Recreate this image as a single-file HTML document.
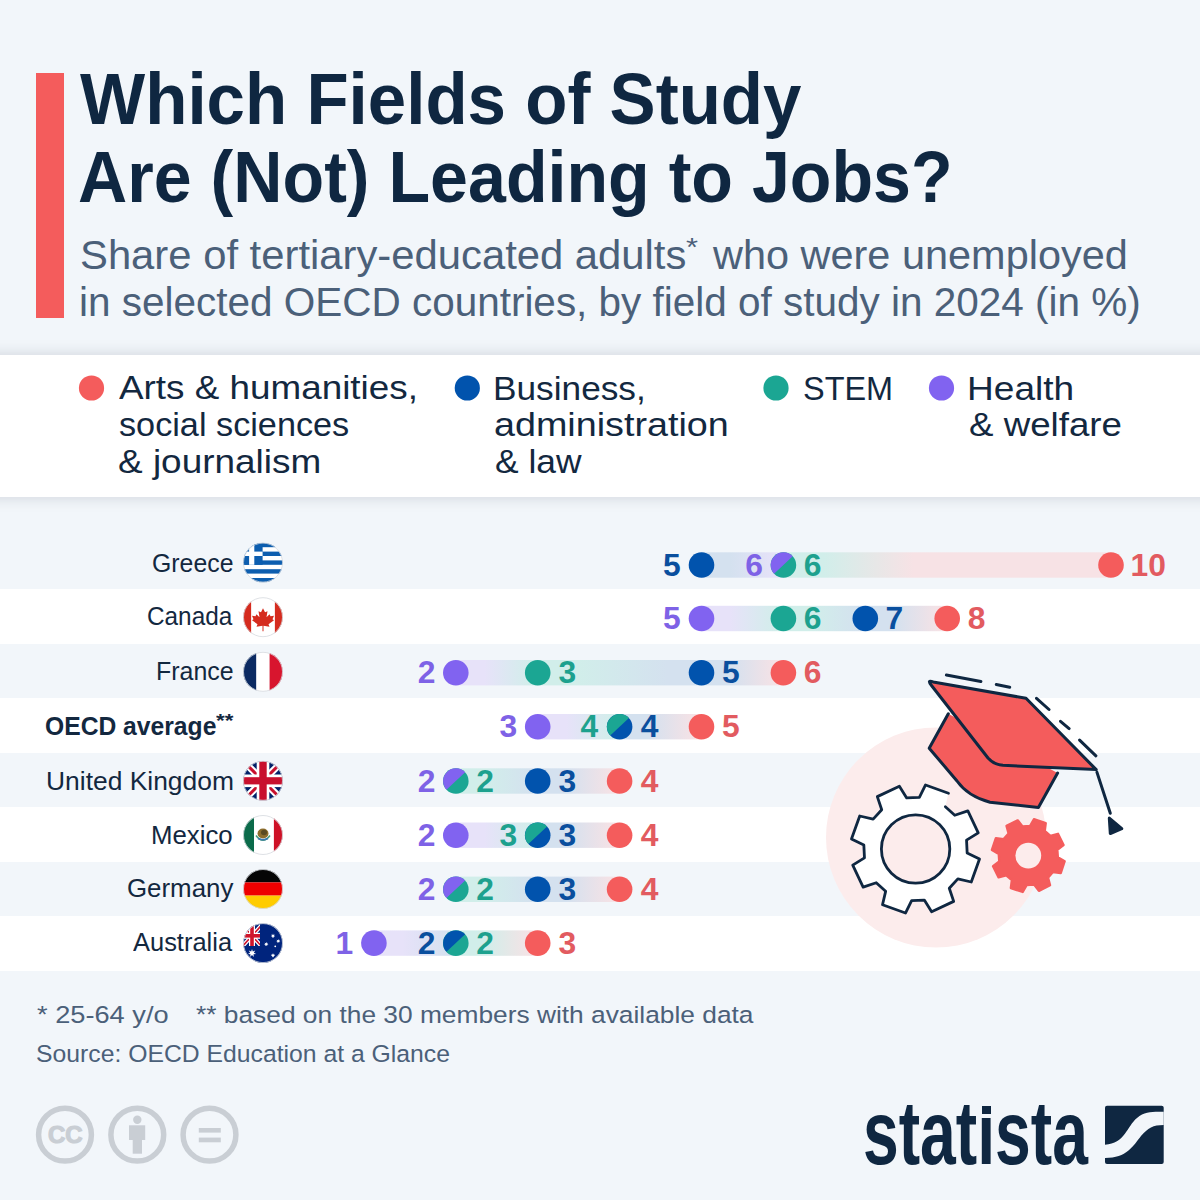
<!DOCTYPE html>
<html><head><meta charset="utf-8"><style>
html,body{margin:0;padding:0;}
body{width:1200px;height:1200px;position:relative;overflow:hidden;background:#f2f6fa;font-family:"Liberation Sans",sans-serif;}
.t{position:absolute;white-space:pre;transform-origin:0 0;}
</style></head><body>
<div style="position:absolute;left:36px;top:73px;width:28px;height:245px;background:#f45c5c"></div>
<div style="position:absolute;left:0;top:534.50px;width:1200px;height:54.5px;background:#f2f6fa"></div><div style="position:absolute;left:0;top:589.00px;width:1200px;height:54.5px;background:#ffffff"></div><div style="position:absolute;left:0;top:643.50px;width:1200px;height:54.5px;background:#f2f6fa"></div><div style="position:absolute;left:0;top:698.00px;width:1200px;height:54.5px;background:#ffffff"></div><div style="position:absolute;left:0;top:752.50px;width:1200px;height:54.5px;background:#f2f6fa"></div><div style="position:absolute;left:0;top:807.00px;width:1200px;height:54.5px;background:#ffffff"></div><div style="position:absolute;left:0;top:861.50px;width:1200px;height:54.5px;background:#f2f6fa"></div><div style="position:absolute;left:0;top:916.00px;width:1200px;height:54.5px;background:#ffffff"></div>
<div style="position:absolute;left:-30px;top:354.5px;width:1260px;height:142.5px;background:#ffffff;box-shadow:0 0 14px rgba(40,50,70,0.18)"></div>
<svg style="position:absolute;left:0;top:0" width="1200" height="1200" viewBox="0 0 1200 1200">
<circle cx="91.5" cy="388" r="12.6" fill="#f45c5c"/>
<circle cx="467.3" cy="388" r="12.6" fill="#0153ad"/>
<circle cx="776" cy="388" r="12.6" fill="#1ba693"/>
<circle cx="941.5" cy="388" r="12.6" fill="#8163f0"/>

<circle cx="936" cy="837.5" r="110" fill="#fcecec"/>
<path d="M877.32,796.64 L899.38,786.24 L906.68,797.96 L919.38,797.35 L925.53,784.98 L948.49,793.22 L945.36,806.67 L954.77,815.22 L967.86,810.82 L978.26,832.88 L966.54,840.18 L967.15,852.88 L979.52,859.03 L971.28,881.99 L957.83,878.86 L949.28,888.27 L953.68,901.36 L931.62,911.76 L924.32,900.04 L911.62,900.65 L905.47,913.02 L882.51,904.78 L885.64,891.33 L876.23,882.78 L863.14,887.18 L852.74,865.12 L864.46,857.82 L863.85,845.12 L851.48,838.97 L859.72,816.01 L873.17,819.14 L881.72,809.73 Z" fill="#ffffff"/>
<path d="M945.36,806.67 L954.77,815.22 L967.86,810.82 L978.26,832.88 L966.54,840.18 L967.15,852.88 L979.52,859.03 L971.28,881.99 L957.83,878.86 L949.28,888.27 L953.68,901.36 L931.62,911.76 L924.32,900.04 L911.62,900.65 L905.47,913.02 L882.51,904.78 L885.64,891.33 L876.23,882.78 L863.14,887.18 L852.74,865.12 L864.46,857.82 L863.85,845.12 L851.48,838.97 L859.72,816.01 L873.17,819.14 L881.72,809.73 L877.32,796.64 L899.38,786.24 L906.68,797.96 L919.38,797.35 L925.53,784.98 L948.49,793.22" fill="none" stroke="#0f2741" stroke-width="2.8" stroke-linejoin="round" stroke-linecap="round"/>
<circle cx="915.6" cy="849" r="34.2" fill="#fcecec" stroke="#0f2741" stroke-width="2.8"/>
<path d="M1006.54,825.92 L1017.69,820.36 L1022.53,826.57 L1029.98,826.05 L1033.90,819.23 L1045.72,823.18 L1044.74,830.99 L1050.38,835.89 L1057.98,833.84 L1063.54,844.99 L1057.33,849.83 L1057.85,857.28 L1064.67,861.20 L1060.72,873.02 L1052.91,872.04 L1048.01,877.68 L1050.06,885.28 L1038.91,890.84 L1034.07,884.63 L1026.62,885.15 L1022.70,891.97 L1010.88,888.02 L1011.86,880.21 L1006.22,875.31 L998.62,877.36 L993.06,866.21 L999.27,861.37 L998.75,853.92 L991.93,850.00 L995.88,838.18 L1003.69,839.16 L1008.59,833.52 Z" fill="#f45c5c" stroke="#f45c5c" stroke-width="2.4" stroke-linejoin="round"/>
<circle cx="1028.3" cy="855.6" r="12.9" fill="#fcecec"/>
<g stroke="#0f2741" stroke-width="3" stroke-linejoin="round" stroke-linecap="round">
<path d="M948.3,713.7 L929.2,748.2 L957,781 Q968,796.5 990,802.2 L1038.4,807.6 L1057.6,773.1" fill="#f45c5c"/>
<path d="M933.2,681.9 L1026,698.3 L1096.2,769.6 L1003,765.3 Q994,764.6 988,758 L931.5,685.5 Q926.5,679.5 933.2,681.9 Z" fill="#f45c5c"/>
<path d="M1096.9,772.1 L1110.3,813.3" fill="none"/>
<path d="M1109.3,818.1 L1121.8,828.7 L1110.3,833.5 Z" fill="#0f2741"/>
<path d="M946.4,675 L980.9,681.5 M996.3,684.5 L1009.7,687.2 M1036.5,698.3 L1049,709.5 M1060.5,721.3 L1069.1,728.6 M1079.6,740.1 L1095.9,755.8" fill="none"/>
</g>

<linearGradient id="g0" gradientUnits="userSpaceOnUse" x1="701.5" y1="0" x2="1111.0" y2="0"><stop offset="0.00%" stop-color="#d4e1ef"/><stop offset="7.00%" stop-color="#d4e1ef"/><stop offset="18.78%" stop-color="#e7e2f9"/><stop offset="20.00%" stop-color="#e7e2f9"/><stop offset="20.00%" stop-color="#d1eeea"/><stop offset="29.77%" stop-color="#d1eeea"/><stop offset="51.75%" stop-color="#f7e2e5"/><stop offset="100.00%" stop-color="#f7e2e5"/></linearGradient>
<rect x="701.50" y="552.30" width="409.50" height="25.4" fill="url(#g0)"/>
<circle cx="701.50" cy="565" r="12.8" fill="#0153ad"/>
<circle cx="783.40" cy="565" r="12.8" fill="#1ba693"/>
<path d="M792.76,556.27 A12.8,12.8 0 0 0 774.04,573.73 Z" fill="#8163f0"/>
<circle cx="1111.00" cy="565" r="12.8" fill="#f45c5c"/>
<linearGradient id="g1" gradientUnits="userSpaceOnUse" x1="701.5" y1="0" x2="947.2" y2="0"><stop offset="0.00%" stop-color="#e7e2f9"/><stop offset="11.67%" stop-color="#e7e2f9"/><stop offset="31.30%" stop-color="#d1eeea"/><stop offset="33.33%" stop-color="#d1eeea"/><stop offset="45.00%" stop-color="#d1eeea"/><stop offset="64.63%" stop-color="#d4e1ef"/><stop offset="66.67%" stop-color="#d4e1ef"/><stop offset="78.33%" stop-color="#d4e1ef"/><stop offset="97.96%" stop-color="#f7e2e5"/><stop offset="100.00%" stop-color="#f7e2e5"/></linearGradient>
<rect x="701.50" y="605.80" width="245.70" height="25.4" fill="url(#g1)"/>
<circle cx="701.50" cy="618.5" r="12.8" fill="#8163f0"/>
<circle cx="783.40" cy="618.5" r="12.8" fill="#1ba693"/>
<circle cx="865.30" cy="618.5" r="12.8" fill="#0153ad"/>
<circle cx="947.20" cy="618.5" r="12.8" fill="#f45c5c"/>
<linearGradient id="g2" gradientUnits="userSpaceOnUse" x1="455.8" y1="0" x2="783.4000000000001" y2="0"><stop offset="0.00%" stop-color="#e7e2f9"/><stop offset="8.75%" stop-color="#e7e2f9"/><stop offset="23.47%" stop-color="#d1eeea"/><stop offset="25.00%" stop-color="#d1eeea"/><stop offset="37.21%" stop-color="#d1eeea"/><stop offset="64.68%" stop-color="#d4e1ef"/><stop offset="75.00%" stop-color="#d4e1ef"/><stop offset="83.75%" stop-color="#d4e1ef"/><stop offset="98.47%" stop-color="#f7e2e5"/><stop offset="100.00%" stop-color="#f7e2e5"/></linearGradient>
<rect x="455.80" y="660.00" width="327.60" height="25.4" fill="url(#g2)"/>
<circle cx="455.80" cy="672.7" r="12.8" fill="#8163f0"/>
<circle cx="537.70" cy="672.7" r="12.8" fill="#1ba693"/>
<circle cx="701.50" cy="672.7" r="12.8" fill="#0153ad"/>
<circle cx="783.40" cy="672.7" r="12.8" fill="#f45c5c"/>
<linearGradient id="g3" gradientUnits="userSpaceOnUse" x1="537.7" y1="0" x2="701.5" y2="0"><stop offset="0.00%" stop-color="#e7e2f9"/><stop offset="17.50%" stop-color="#e7e2f9"/><stop offset="46.95%" stop-color="#d1eeea"/><stop offset="50.00%" stop-color="#d1eeea"/><stop offset="50.00%" stop-color="#d4e1ef"/><stop offset="67.50%" stop-color="#d4e1ef"/><stop offset="96.95%" stop-color="#f7e2e5"/><stop offset="100.00%" stop-color="#f7e2e5"/></linearGradient>
<rect x="537.70" y="714.00" width="163.80" height="25.4" fill="url(#g3)"/>
<circle cx="537.70" cy="726.7" r="12.8" fill="#8163f0"/>
<circle cx="619.60" cy="726.7" r="12.8" fill="#0153ad"/>
<path d="M628.96,717.97 A12.8,12.8 0 0 0 610.24,735.43 Z" fill="#1ba693"/>
<circle cx="701.50" cy="726.7" r="12.8" fill="#f45c5c"/>
<linearGradient id="g4" gradientUnits="userSpaceOnUse" x1="455.8" y1="0" x2="619.6" y2="0"><stop offset="0.00%" stop-color="#e7e2f9"/><stop offset="0.00%" stop-color="#d1eeea"/><stop offset="17.50%" stop-color="#d1eeea"/><stop offset="46.95%" stop-color="#d4e1ef"/><stop offset="50.00%" stop-color="#d4e1ef"/><stop offset="67.50%" stop-color="#d4e1ef"/><stop offset="96.95%" stop-color="#f7e2e5"/><stop offset="100.00%" stop-color="#f7e2e5"/></linearGradient>
<rect x="455.80" y="768.30" width="163.80" height="25.4" fill="url(#g4)"/>
<circle cx="455.80" cy="781" r="12.8" fill="#1ba693"/>
<path d="M465.16,772.27 A12.8,12.8 0 0 0 446.44,789.73 Z" fill="#8163f0"/>
<circle cx="537.70" cy="781" r="12.8" fill="#0153ad"/>
<circle cx="619.60" cy="781" r="12.8" fill="#f45c5c"/>
<linearGradient id="g5" gradientUnits="userSpaceOnUse" x1="455.8" y1="0" x2="619.6" y2="0"><stop offset="0.00%" stop-color="#e7e2f9"/><stop offset="17.50%" stop-color="#e7e2f9"/><stop offset="46.95%" stop-color="#d1eeea"/><stop offset="50.00%" stop-color="#d1eeea"/><stop offset="50.00%" stop-color="#d4e1ef"/><stop offset="67.50%" stop-color="#d4e1ef"/><stop offset="96.95%" stop-color="#f7e2e5"/><stop offset="100.00%" stop-color="#f7e2e5"/></linearGradient>
<rect x="455.80" y="822.50" width="163.80" height="25.4" fill="url(#g5)"/>
<circle cx="455.80" cy="835.2" r="12.8" fill="#8163f0"/>
<circle cx="537.70" cy="835.2" r="12.8" fill="#0153ad"/>
<path d="M547.06,826.47 A12.8,12.8 0 0 0 528.34,843.93 Z" fill="#1ba693"/>
<circle cx="619.60" cy="835.2" r="12.8" fill="#f45c5c"/>
<linearGradient id="g6" gradientUnits="userSpaceOnUse" x1="455.8" y1="0" x2="619.6" y2="0"><stop offset="0.00%" stop-color="#e7e2f9"/><stop offset="0.00%" stop-color="#d1eeea"/><stop offset="17.50%" stop-color="#d1eeea"/><stop offset="46.95%" stop-color="#d4e1ef"/><stop offset="50.00%" stop-color="#d4e1ef"/><stop offset="67.50%" stop-color="#d4e1ef"/><stop offset="96.95%" stop-color="#f7e2e5"/><stop offset="100.00%" stop-color="#f7e2e5"/></linearGradient>
<rect x="455.80" y="876.60" width="163.80" height="25.4" fill="url(#g6)"/>
<circle cx="455.80" cy="889.3" r="12.8" fill="#1ba693"/>
<path d="M465.16,880.57 A12.8,12.8 0 0 0 446.44,898.03 Z" fill="#8163f0"/>
<circle cx="537.70" cy="889.3" r="12.8" fill="#0153ad"/>
<circle cx="619.60" cy="889.3" r="12.8" fill="#f45c5c"/>
<linearGradient id="g7" gradientUnits="userSpaceOnUse" x1="373.9" y1="0" x2="537.7" y2="0"><stop offset="0.00%" stop-color="#e7e2f9"/><stop offset="17.50%" stop-color="#e7e2f9"/><stop offset="46.95%" stop-color="#d4e1ef"/><stop offset="50.00%" stop-color="#d4e1ef"/><stop offset="50.00%" stop-color="#d1eeea"/><stop offset="67.50%" stop-color="#d1eeea"/><stop offset="96.95%" stop-color="#f7e2e5"/><stop offset="100.00%" stop-color="#f7e2e5"/></linearGradient>
<rect x="373.90" y="930.40" width="163.80" height="25.4" fill="url(#g7)"/>
<circle cx="373.90" cy="943.1" r="12.8" fill="#8163f0"/>
<circle cx="455.80" cy="943.1" r="12.8" fill="#1ba693"/>
<path d="M465.16,934.37 A12.8,12.8 0 0 0 446.44,951.83 Z" fill="#0153ad"/>
<circle cx="537.70" cy="943.1" r="12.8" fill="#f45c5c"/>
<clipPath id="fc0"><circle cx="263" cy="562.6" r="19.8"/></clipPath><g clip-path="url(#fc0)"><rect x="243.2" y="542.8000000000001" width="39.6" height="39.6" fill="#ffffff"/><rect x="243.2" y="542.80" width="39.6" height="4.40" fill="#0d5eaf"/><rect x="243.2" y="551.60" width="39.6" height="4.40" fill="#0d5eaf"/><rect x="243.2" y="560.40" width="39.6" height="4.40" fill="#0d5eaf"/><rect x="243.2" y="569.20" width="39.6" height="4.40" fill="#0d5eaf"/><rect x="243.2" y="578.00" width="39.6" height="4.40" fill="#0d5eaf"/><rect x="243.2" y="542.8000000000001" width="19.4" height="22.00" fill="#0d5eaf"/><rect x="243.2" y="551.60" width="19.4" height="4.40" fill="#ffffff"/><rect x="249.10" y="542.8000000000001" width="5.2" height="22.00" fill="#ffffff"/></g><circle cx="263" cy="562.6" r="19.5" fill="none" stroke="#d6d9de" stroke-width="0.8"/><clipPath id="fc1"><circle cx="263" cy="617.2" r="19.8"/></clipPath><g clip-path="url(#fc1)"><rect x="243.2" y="597.4000000000001" width="39.6" height="39.6" fill="#ffffff"/><rect x="243.2" y="597.4000000000001" width="7.92" height="39.6" fill="#d52b1e"/><rect x="274.88" y="597.4000000000001" width="7.92" height="39.6" fill="#d52b1e"/><path transform="translate(263,617.2) scale(0.5)" d="M0,-18 L4,-10 L9,-12 L7,0 L13,-6 L15,-2 L22,-3 L19,4 L22,6 L11,14 L13,19 L1,17 L1,28 L-1,28 L-1,17 L-13,19 L-11,14 L-22,6 L-19,4 L-22,-3 L-15,-2 L-13,-6 L-7,0 L-9,-12 L-4,-10 Z" fill="#d52b1e"/></g><circle cx="263" cy="617.2" r="19.5" fill="none" stroke="#d6d9de" stroke-width="0.8"/><clipPath id="fc2"><circle cx="263" cy="671.8" r="19.8"/></clipPath><g clip-path="url(#fc2)"><rect x="243.2" y="652.0" width="13.20" height="39.6" fill="#0b2a62"/><rect x="256.40" y="652.0" width="13.20" height="39.6" fill="#ffffff"/><rect x="269.60" y="652.0" width="13.20" height="39.6" fill="#d8152e"/></g><circle cx="263" cy="671.8" r="19.5" fill="none" stroke="#d6d9de" stroke-width="0.8"/><clipPath id="fc4"><circle cx="263" cy="780.8" r="19.8"/></clipPath><g clip-path="url(#fc4)"><rect x="243.2" y="761.0" width="39.6" height="39.6" fill="#012169"/><path d="M243.2,761.0 L282.8,800.6 M282.8,761.0 L243.2,800.6" stroke="#ffffff" stroke-width="7"/><path d="M243.2,761.0 L282.8,800.6 M282.8,761.0 L243.2,800.6" stroke="#c8102e" stroke-width="3"/><rect x="256.7" y="761.0" width="12.6" height="39.6" fill="#ffffff"/><rect x="243.2" y="774.5" width="39.6" height="12.6" fill="#ffffff"/><rect x="259.3" y="761.0" width="7.4" height="39.6" fill="#c8102e"/><rect x="243.2" y="777.1999999999999" width="39.6" height="7.2" fill="#c8102e"/></g><circle cx="263" cy="780.8" r="19.5" fill="none" stroke="#d6d9de" stroke-width="0.8"/><clipPath id="fc5"><circle cx="263" cy="835" r="19.8"/></clipPath><g clip-path="url(#fc5)"><rect x="243.2" y="815.2" width="10.89" height="39.6" fill="#0b6b4a"/><rect x="254.09" y="815.2" width="19.80" height="39.6" fill="#ffffff"/><rect x="273.89" y="815.2" width="8.91" height="39.6" fill="#ce1126"/><ellipse cx="263" cy="833.5" rx="5.5" ry="5" fill="#8c6d2c"/><ellipse cx="264" cy="832.5" rx="3" ry="2.8" fill="#5a4a20"/><path d="M256,835.5 Q263,845 270,835.5" stroke="#4a9a7a" stroke-width="1.6" fill="none"/><path d="M258,838.5 Q263,841 268,838.5" stroke="#3a7ab0" stroke-width="1.5" fill="none"/></g><circle cx="263" cy="835" r="19.5" fill="none" stroke="#d6d9de" stroke-width="0.8"/><clipPath id="fc6"><circle cx="263" cy="889" r="19.8"/></clipPath><g clip-path="url(#fc6)"><rect x="243.2" y="869.2" width="39.6" height="13.20" fill="#050505"/><rect x="243.2" y="882.40" width="39.6" height="13.20" fill="#ee0000"/><rect x="243.2" y="895.60" width="39.6" height="13.20" fill="#ffcc00"/></g><circle cx="263" cy="889" r="19.5" fill="none" stroke="#d6d9de" stroke-width="0.8"/><clipPath id="fc7"><circle cx="263" cy="943.1" r="19.8"/></clipPath><g clip-path="url(#fc7)"><rect x="243.2" y="923.3000000000001" width="39.6" height="39.6" fill="#00247d"/><clipPath id="ac"><rect x="243.2" y="923.3000000000001" width="16.80" height="22.80"/></clipPath><g clip-path="url(#ac)"><path d="M242.5,925.3000000000001 L261.5,946.3000000000001 M261.5,925.3000000000001 L242.5,946.3000000000001" stroke="#ffffff" stroke-width="4"/><path d="M242.5,925.3000000000001 L261.5,946.3000000000001 M261.5,925.3000000000001 L242.5,946.3000000000001" stroke="#cf142b" stroke-width="1.6"/><rect x="249" y="923.3000000000001" width="6" height="30" fill="#ffffff"/><rect x="243.2" y="932.8000000000001" width="30" height="6" fill="#ffffff"/><rect x="250.2" y="923.3000000000001" width="3.6" height="30" fill="#cf142b"/><rect x="243.2" y="934.0000000000001" width="30" height="3.6" fill="#cf142b"/></g><polygon points="252.00,948.90 252.82,951.40 255.28,950.48 253.84,952.68 256.09,954.03 253.48,954.28 253.82,956.88 252.00,954.99 250.18,956.88 250.52,954.28 247.91,954.03 250.16,952.68 248.72,950.48 251.18,951.40" fill="#ffffff"/><polygon points="273.00,933.55 273.45,934.92 274.80,934.42 274.01,935.62 275.24,936.36 273.81,936.50 274.00,937.92 273.00,936.88 272.00,937.92 272.19,936.50 270.76,936.36 271.99,935.62 271.20,934.42 272.55,934.92" fill="#ffffff"/><polygon points="266.25,941.80 266.70,943.17 268.05,942.67 267.26,943.87 268.49,944.61 267.06,944.75 267.25,946.17 266.25,945.13 265.25,946.17 265.44,944.75 264.01,944.61 265.24,943.87 264.45,942.67 265.80,943.17" fill="#ffffff"/><polygon points="278.25,938.90 278.68,940.21 279.97,939.73 279.22,940.88 280.39,941.59 279.02,941.72 279.20,943.08 278.25,942.09 277.30,943.08 277.48,941.72 276.11,941.59 277.28,940.88 276.53,939.73 277.82,940.21" fill="#ffffff"/><polygon points="273.00,953.05 273.45,954.42 274.80,953.92 274.01,955.12 275.24,955.86 273.81,956.00 274.00,957.42 273.00,956.38 272.00,957.42 272.19,956.00 270.76,955.86 271.99,955.12 271.20,953.92 272.55,954.42" fill="#ffffff"/><circle cx="275.25" cy="946.35" r="0.9" fill="#ffffff"/></g><circle cx="263" cy="943.1" r="19.5" fill="none" stroke="#d6d9de" stroke-width="0.8"/>

<g fill="none" stroke="#c9ced4" stroke-width="5.5">
<circle cx="65" cy="1134.7" r="26.4"/>
<circle cx="137.3" cy="1134.7" r="26.4"/>
<circle cx="209.5" cy="1134.7" r="26.4"/>
</g>
<g fill="#c9ced4">
<circle cx="137.3" cy="1119.8" r="4.2"/>
<rect x="129" y="1125.3" width="16.2" height="14.7"/>
<rect x="132.7" y="1138" width="9.3" height="15.7"/>
<rect x="198.8" y="1128" width="22" height="4.6"/>
<rect x="198.8" y="1137.6" width="22" height="4.7"/>
</g>

<rect x="1105" y="1105.7" width="58.7" height="58.3" rx="2" fill="#0f2741"/>
<path d="M1105,1144.7 C1125,1143.7 1127,1126 1137,1118 C1145,1111 1153,1111.7 1163.7,1111.7 L1163.7,1125 C1153,1125 1148,1128 1141,1136 C1133,1146 1127,1158 1105,1158 Z" fill="#f2f6fa"/>

</svg>
<div class="t" style="left:79.93px;top:62.55px;font-size:72px;line-height:72px;font-weight:700;color:#0f2741;transform:scaleX(0.9594);">Which Fields of Study</div>
<div class="t" style="left:78.30px;top:141.05px;font-size:72px;line-height:72px;font-weight:700;color:#0f2741;transform:scaleX(0.9466);">Are (Not) Leading to Jobs?</div>
<div class="t" style="left:79.80px;top:234.99px;font-size:41px;line-height:41px;font-weight:400;color:#4b6079;transform:scaleX(1.0194);">Share of tertiary-educated adults</div>
<div class="t" style="left:685.50px;top:233.99px;font-size:26px;line-height:26px;font-weight:400;color:#4b6079;transform:scaleX(1.1837);">*</div>
<div class="t" style="left:713.06px;top:234.99px;font-size:41px;line-height:41px;font-weight:400;color:#4b6079;transform:scaleX(1.0111);">who were unemployed</div>
<div class="t" style="left:78.99px;top:282.49px;font-size:41px;line-height:41px;font-weight:400;color:#4b6079;transform:scaleX(0.9871);">in selected OECD countries, by field of study in 2024 (in %)</div>
<div class="t" style="left:119.43px;top:370.22px;font-size:34px;line-height:34px;font-weight:400;color:#13283f;transform:scaleX(1.0834);">Arts &amp; humanities,</div>
<div class="t" style="left:118.55px;top:406.72px;font-size:34px;line-height:34px;font-weight:400;color:#13283f;transform:scaleX(1.0067);">social sciences</div>
<div class="t" style="left:118.20px;top:443.72px;font-size:34px;line-height:34px;font-weight:400;color:#13283f;transform:scaleX(1.0864);">&amp; journalism</div>
<div class="t" style="left:493.11px;top:370.72px;font-size:34px;line-height:34px;font-weight:400;color:#13283f;transform:scaleX(1.0363);">Business,</div>
<div class="t" style="left:494.40px;top:407.22px;font-size:34px;line-height:34px;font-weight:400;color:#13283f;transform:scaleX(1.1091);">administration</div>
<div class="t" style="left:494.76px;top:443.72px;font-size:34px;line-height:34px;font-weight:400;color:#13283f;transform:scaleX(1.0399);">&amp; law</div>
<div class="t" style="left:802.53px;top:370.52px;font-size:34px;line-height:34px;font-weight:400;color:#13283f;transform:scaleX(0.9544);">STEM</div>
<div class="t" style="left:966.96px;top:370.52px;font-size:34px;line-height:34px;font-weight:400;color:#13283f;transform:scaleX(1.0902);">Health</div>
<div class="t" style="left:968.71px;top:407.22px;font-size:34px;line-height:34px;font-weight:400;color:#13283f;transform:scaleX(1.0790);">&amp; welfare</div>
<div class="t" style="left:663.10px;top:549.58px;font-size:31.8px;line-height:31.8px;font-weight:700;color:#0a4f9e;transform:scaleX(1.0000);">5</div>
<div class="t" style="left:745.26px;top:549.58px;font-size:31.8px;line-height:31.8px;font-weight:700;color:#7e62e6;transform:scaleX(1.0000);">6</div>
<div class="t" style="left:803.84px;top:549.58px;font-size:31.8px;line-height:31.8px;font-weight:700;color:#1da18e;transform:scaleX(1.0000);">6</div>
<div class="t" style="left:1130.60px;top:549.58px;font-size:31.8px;line-height:31.8px;font-weight:700;color:#e25b60;transform:scaleX(1.0000);">10</div>
<div class="t" style="left:663.10px;top:603.08px;font-size:31.8px;line-height:31.8px;font-weight:700;color:#7e62e6;transform:scaleX(1.0000);">5</div>
<div class="t" style="left:803.84px;top:603.08px;font-size:31.8px;line-height:31.8px;font-weight:700;color:#1da18e;transform:scaleX(1.0000);">6</div>
<div class="t" style="left:885.53px;top:603.08px;font-size:31.8px;line-height:31.8px;font-weight:700;color:#0a4f9e;transform:scaleX(1.0000);">7</div>
<div class="t" style="left:967.79px;top:603.08px;font-size:31.8px;line-height:31.8px;font-weight:700;color:#e25b60;transform:scaleX(1.0000);">8</div>
<div class="t" style="left:417.79px;top:657.28px;font-size:31.8px;line-height:31.8px;font-weight:700;color:#7e62e6;transform:scaleX(1.0000);">2</div>
<div class="t" style="left:558.57px;top:657.28px;font-size:31.8px;line-height:31.8px;font-weight:700;color:#1da18e;transform:scaleX(1.0000);">3</div>
<div class="t" style="left:722.12px;top:657.28px;font-size:31.8px;line-height:31.8px;font-weight:700;color:#0a4f9e;transform:scaleX(1.0000);">5</div>
<div class="t" style="left:803.84px;top:657.28px;font-size:31.8px;line-height:31.8px;font-weight:700;color:#e25b60;transform:scaleX(1.0000);">6</div>
<div class="t" style="left:499.56px;top:711.28px;font-size:31.8px;line-height:31.8px;font-weight:700;color:#7e62e6;transform:scaleX(1.0000);">3</div>
<div class="t" style="left:580.49px;top:711.28px;font-size:31.8px;line-height:31.8px;font-weight:700;color:#1da18e;transform:scaleX(1.0000);">4</div>
<div class="t" style="left:640.72px;top:711.28px;font-size:31.8px;line-height:31.8px;font-weight:700;color:#0a4f9e;transform:scaleX(1.0000);">4</div>
<div class="t" style="left:722.12px;top:711.28px;font-size:31.8px;line-height:31.8px;font-weight:700;color:#e25b60;transform:scaleX(1.0000);">5</div>
<div class="t" style="left:417.79px;top:765.58px;font-size:31.8px;line-height:31.8px;font-weight:700;color:#7e62e6;transform:scaleX(1.0000);">2</div>
<div class="t" style="left:476.30px;top:765.58px;font-size:31.8px;line-height:31.8px;font-weight:700;color:#1da18e;transform:scaleX(1.0000);">2</div>
<div class="t" style="left:558.57px;top:765.58px;font-size:31.8px;line-height:31.8px;font-weight:700;color:#0a4f9e;transform:scaleX(1.0000);">3</div>
<div class="t" style="left:640.72px;top:765.58px;font-size:31.8px;line-height:31.8px;font-weight:700;color:#e25b60;transform:scaleX(1.0000);">4</div>
<div class="t" style="left:417.79px;top:819.78px;font-size:31.8px;line-height:31.8px;font-weight:700;color:#7e62e6;transform:scaleX(1.0000);">2</div>
<div class="t" style="left:499.56px;top:819.78px;font-size:31.8px;line-height:31.8px;font-weight:700;color:#1da18e;transform:scaleX(1.0000);">3</div>
<div class="t" style="left:558.57px;top:819.78px;font-size:31.8px;line-height:31.8px;font-weight:700;color:#0a4f9e;transform:scaleX(1.0000);">3</div>
<div class="t" style="left:640.72px;top:819.78px;font-size:31.8px;line-height:31.8px;font-weight:700;color:#e25b60;transform:scaleX(1.0000);">4</div>
<div class="t" style="left:417.79px;top:873.88px;font-size:31.8px;line-height:31.8px;font-weight:700;color:#7e62e6;transform:scaleX(1.0000);">2</div>
<div class="t" style="left:476.30px;top:873.88px;font-size:31.8px;line-height:31.8px;font-weight:700;color:#1da18e;transform:scaleX(1.0000);">2</div>
<div class="t" style="left:558.57px;top:873.88px;font-size:31.8px;line-height:31.8px;font-weight:700;color:#0a4f9e;transform:scaleX(1.0000);">3</div>
<div class="t" style="left:640.72px;top:873.88px;font-size:31.8px;line-height:31.8px;font-weight:700;color:#e25b60;transform:scaleX(1.0000);">4</div>
<div class="t" style="left:335.50px;top:927.68px;font-size:31.8px;line-height:31.8px;font-weight:700;color:#7e62e6;transform:scaleX(1.0000);">1</div>
<div class="t" style="left:417.79px;top:927.68px;font-size:31.8px;line-height:31.8px;font-weight:700;color:#0a4f9e;transform:scaleX(1.0000);">2</div>
<div class="t" style="left:476.30px;top:927.68px;font-size:31.8px;line-height:31.8px;font-weight:700;color:#1da18e;transform:scaleX(1.0000);">2</div>
<div class="t" style="left:558.57px;top:927.68px;font-size:31.8px;line-height:31.8px;font-weight:700;color:#e25b60;transform:scaleX(1.0000);">3</div>
<div class="t" style="left:151.95px;top:550.88px;font-size:25.3px;line-height:25.3px;font-weight:400;color:#13283f;transform:scaleX(0.9818);">Greece</div>
<div class="t" style="left:147.06px;top:604.48px;font-size:25.3px;line-height:25.3px;font-weight:400;color:#13283f;transform:scaleX(0.9618);">Canada</div>
<div class="t" style="left:155.95px;top:659.38px;font-size:25.3px;line-height:25.3px;font-weight:400;color:#13283f;transform:scaleX(0.9862);">France</div>
<div class="t" style="left:45.29px;top:713.49px;font-size:26px;line-height:26px;font-weight:700;color:#13283f;transform:scaleX(0.9486);">OECD average</div>
<div class="t" style="left:216.43px;top:712.34px;font-size:18.5px;line-height:18.5px;font-weight:700;color:#13283f;transform:scaleX(1.2075);">**</div>
<div class="t" style="left:46.26px;top:768.58px;font-size:25.3px;line-height:25.3px;font-weight:400;color:#13283f;transform:scaleX(1.0442);">United Kingdom</div>
<div class="t" style="left:151.38px;top:822.58px;font-size:25.3px;line-height:25.3px;font-weight:400;color:#13283f;transform:scaleX(1.0195);">Mexico</div>
<div class="t" style="left:127.20px;top:876.38px;font-size:25.3px;line-height:25.3px;font-weight:400;color:#13283f;transform:scaleX(1.0222);">Germany</div>
<div class="t" style="left:132.70px;top:930.38px;font-size:25.3px;line-height:25.3px;font-weight:400;color:#13283f;transform:scaleX(1.0063);">Australia</div>
<div class="t" style="left:36.56px;top:1002.76px;font-size:24.5px;line-height:24.5px;font-weight:400;color:#4b6079;transform:scaleX(1.1105);">* 25-64 y/o</div>
<div class="t" style="left:195.88px;top:1002.76px;font-size:24.5px;line-height:24.5px;font-weight:400;color:#4b6079;transform:scaleX(1.0744);">** based on the 30 members with available data</div>
<div class="t" style="left:35.88px;top:1041.76px;font-size:24.5px;line-height:24.5px;font-weight:400;color:#4b6079;transform:scaleX(1.0098);">Source: OECD Education at a Glance</div>
<div class="t" style="left:47.82px;top:1122.98px;font-size:24px;line-height:24px;font-weight:700;color:#c9ced4;transform:scaleX(0.9993);-webkit-text-stroke:1.2px #c9ced4;">CC</div>
<div class="t" style="left:862.74px;top:1087.82px;font-size:90px;line-height:90px;font-weight:700;color:#0f2741;transform:scaleX(0.7135);">statısta</div>
<div style="position:absolute;left:978px;top:1114.3px;width:16px;height:3.7px;background:#f2f6fa"></div><div style="position:absolute;left:982px;top:1106px;width:9px;height:8.3px;background:#0f2741"></div>
</body></html>
